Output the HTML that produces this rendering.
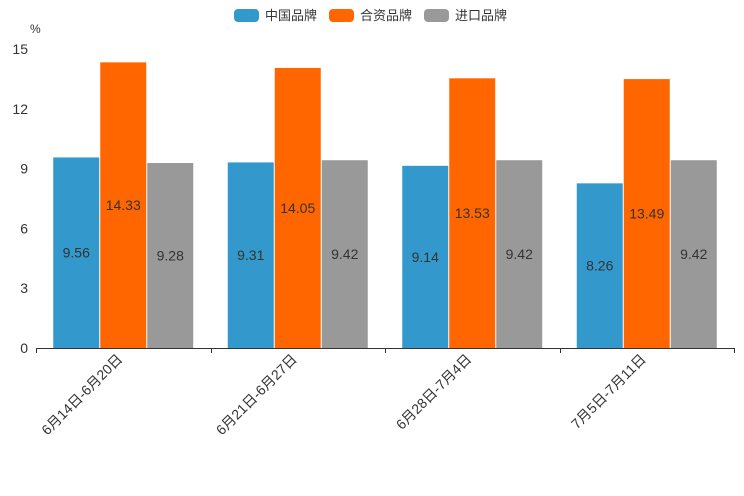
<!DOCTYPE html>
<html><head><meta charset="utf-8"><style>
body{margin:0;background:#fff;}
svg{display:block;font-family:"Liberation Sans","DejaVu Sans","Noto Sans CJK SC",sans-serif;}
</style></head><body>
<svg id="chart" width="744" height="496" xmlns="http://www.w3.org/2000/svg">
<g id="legend"></g>
<g id="axes"></g>
<g id="bars"></g>
</svg>
<script>
const categories = ["6月14日-6月20日","6月21日-6月27日","6月28日-7月4日","7月5日-7月11日"];
const seriesNames = ["中国品牌","合资品牌","进口品牌"];
const seriesChina = [9.56,9.31,9.14,8.26];
const seriesJV = [14.33,14.05,13.53,13.49];
const seriesImport = [9.28,9.42,9.42,9.42];
const yTicks = [0,3,6,9,12,15];
const colors = ["#3399cc","#ff6600","#999999"];
const NS="http://www.w3.org/2000/svg";
const x0=36,x1=734,yBase=348,yTop=49,yMax=15;
const y=v=>yBase-(v/yMax)*(yBase-yTop);
const gw=(x1-x0)/categories.length;
const bw=46;
function mk(t,a,p){const e=document.createElementNS(NS,t);for(const k in a)e.setAttribute(k,a[k]);p.appendChild(e);return e;}
const axes=document.getElementById('axes'),bars=document.getElementById('bars'),legend=document.getElementById('legend');
// legend
const lx=[234,329,424];
seriesNames.forEach((n,i)=>{
  const r=mk('rect',{x:lx[i],y:9,width:25,height:13,rx:4,fill:colors[i]},legend);
  
  
  const t=mk('text',{x:lx[i]+31,y:20,'font-size':13,fill:'#333'},legend);t.textContent=n;
  
  
});
// y axis labels
const u=mk('text',{x:30,y:33,'font-size':12,fill:'#333'},axes);u.textContent='%';


yTicks.forEach(v=>{
  const t=mk('text',{x:28,y:y(v)+5,'font-size':14,fill:'#333','text-anchor':'end'},axes);t.textContent=v;
  
  
});
// x axis
const ax=mk('line',{x1:x0,x2:x1,y1:yBase+0.5,y2:yBase+0.5,stroke:'#333'},axes);


for(let i=0;i<=categories.length;i++){
  const xx=Math.round(x0+i*gw)+0.5;
  const tk=mk('line',{x1:xx,x2:xx,y1:yBase,y2:yBase+5,stroke:'#333'},axes);
  
  
}
const all=[seriesChina,seriesJV,seriesImport];
categories.forEach((c,i)=>{
  const cx=x0+(i+0.5)*gw;
  const t=mk('text',{x:cx,y:yBase+12,'font-size':14,fill:'#333','text-anchor':'end',transform:`rotate(-45 ${cx} ${yBase+12})`},axes);
  t.textContent=c;
  
  
  all.forEach((s,j)=>{
    const bx=cx-1.5*bw-1+j*(bw+1);
    const r=mk('rect',{x:bx,y:y(s[i]),width:bw,height:yBase-y(s[i]),fill:colors[j]},bars);
    
    
    const l=mk('text',{x:bx+bw/2,y:(y(s[i])+yBase)/2+5,'font-size':14,fill:'#333','text-anchor':'middle'},bars);
    l.textContent=s[i].toFixed(2);
    
    
  });
});
</script>
</body></html>
